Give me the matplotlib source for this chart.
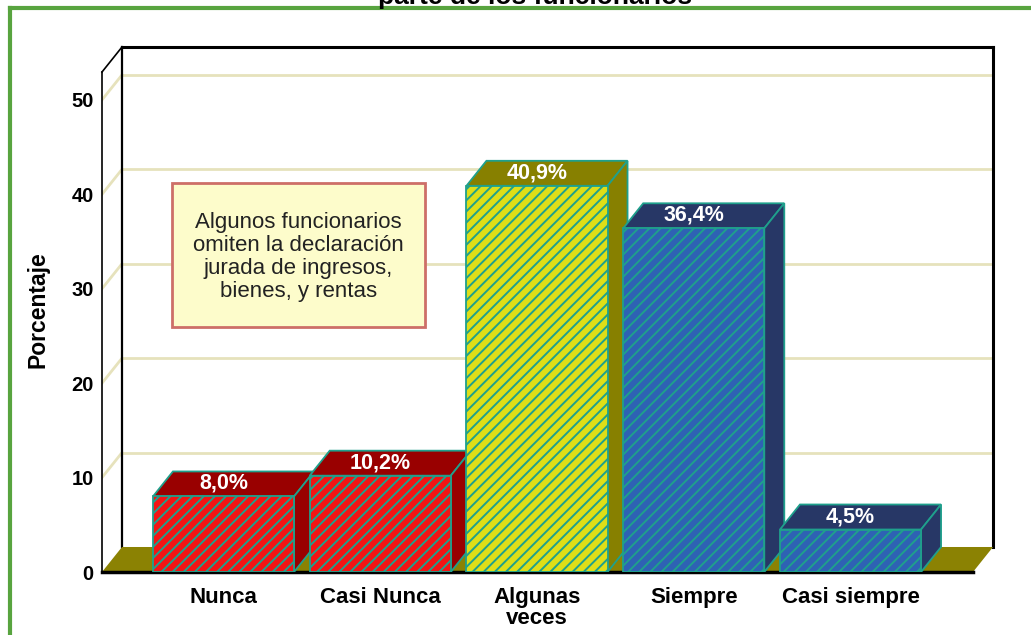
import numpy as np
import matplotlib
matplotlib.use('Agg')
import matplotlib.pyplot as plt
from matplotlib.patches import Polygon, Rectangle
from matplotlib.lines import Line2D

### DATA ###
categorias = ['Nunca', 'Casi Nunca', 'Algunas\nveces', 'Siempre', 'Casi siempre']
porcentajes = [8.0, 10.2, 40.9, 36.4, 4.5]
etiquetas = ['8,0%', '10,2%', '40,9%', '36,4%', '4,5%']
y_ticks = [0, 10, 20, 30, 40, 50]
titulo = 'parte de los funcionarios'
nota = 'Algunos funcionarios\nomiten la declaración\njurada de ingresos,\nbienes, y rentas'

### STYLE ###
frente = ['#f21414', '#f21414', '#dede18', '#2e62b4', '#2e62b4']
sombra = ['#990000', '#990000', '#878000', '#273766', '#273766']
borde = '#1fa08c'
piso = '#8b8203'
grilla = '#e6e2bc'
plt.rcParams['hatch.linewidth'] = 1.4
plt.rcParams['font.family'] = ['Liberation Sans', 'DejaVu Sans']

fig = plt.figure(figsize=(10.31, 6.35), dpi=100)
ax = fig.add_axes([102 / 1031, 1 - 572 / 635, 891 / 1031, 525 / 635])

x0, x1 = -0.775, 4.909
ytop = 55.6
dx = 20 / 156.75
dy = 25 / 9.44
ax.set_xlim(x0, x1)
ax.set_ylim(0, ytop)
for s in ax.spines.values():
    s.set_visible(False)

# paredes y grilla
for v in y_ticks[1:]:
    ax.plot([x0 + dx, x1], [v + dy, v + dy], color=grilla, lw=2, zorder=1)
    ax.plot([x0, x0 + dx], [v, v + dy], color=grilla, lw=2, zorder=1)
ax.plot([x0 + dx, x1], [ytop, ytop], color='black', lw=2.2, zorder=2, clip_on=False)
ax.plot([x0 + dx, x0 + dx], [dy, ytop], color='black', lw=1.6, zorder=2, clip_on=False)
ax.plot([x1, x1], [dy, ytop], color='black', lw=2.2, zorder=2, clip_on=False)
ax.plot([x0, x0], [0, ytop - dy], color='black', lw=1.2, zorder=2, clip_on=False)
ax.plot([x0, x0 + dx], [ytop - dy, ytop], color='black', lw=1.2, zorder=2, clip_on=False)

# piso
ax.add_patch(Polygon([(x0, 0), (x0 + dx, dy), (x1, dy), (x1 - dx, 0)],
                     closed=True, facecolor=piso, edgecolor='none', zorder=2, clip_on=False))
ax.plot([x0, x1 - dx], [0, 0], color='black', lw=2.5, zorder=2, clip_on=False)

# barras 3D
w = 0.45
for i, v in enumerate(porcentajes):
    z = 3 + i
    ax.bar(i, v, width=2 * w, color=frente[i], edgecolor=borde, hatch='///',
           linewidth=1.3, zorder=z + 0.5)
    top = Polygon([(i - w, v), (i - w + dx, v + dy), (i + w + dx, v + dy), (i + w, v)],
                  closed=True, facecolor=sombra[i], edgecolor=borde, lw=1.3, zorder=z)
    side = Polygon([(i + w, 0), (i + w, v), (i + w + dx, v + dy), (i + w + dx, dy)],
                   closed=True, facecolor=sombra[i], edgecolor=borde, lw=1.3, zorder=z)
    ax.add_patch(top)
    ax.add_patch(side)
    ax.text(i, v + dy * 0.52, etiquetas[i], ha='center', va='center', color='white',
            fontsize=15.5, fontweight='bold', zorder=z + 0.8)

ax.set_xticks(range(len(categorias)))
ax.set_xticklabels(categorias, fontsize=16, fontweight='bold', linespacing=1.0)
ax.set_yticks(y_ticks)
ax.set_yticklabels([str(t) for t in y_ticks], fontsize=14.5, fontweight='bold')
ax.tick_params(axis='x', length=0, pad=11)
ax.tick_params(axis='y', length=0, pad=6)
ax.set_ylabel('Porcentaje', fontsize=16.5, fontweight='bold', labelpad=16)

# cuadro de nota
ax.add_patch(Rectangle((70 / 891, 245 / 525), 253 / 891, 144 / 525, transform=ax.transAxes,
                       facecolor='#fdfccb', edgecolor='#cd6f68', lw=2, zorder=10))
ax.text((70 + 126.5) / 891, (245 + 70) / 525, nota, transform=ax.transAxes, ha='center',
        va='center', fontsize=16, color='#222222', linespacing=1.13, zorder=11)

# marco verde y titulo recortado
fig.add_artist(Line2D([9.5 / 1031, 9.5 / 1031], [0, 1 - 7.5 / 635], color='#58a43f', lw=3))
fig.add_artist(Line2D([9.5 / 1031, 1], [1 - 7.5 / 635, 1 - 7.5 / 635], color='#58a43f', lw=3))
fig.text(535 / 1031, 1 - 4 / 635, titulo, ha='center', va='baseline', fontsize=19,
         fontweight='bold')

fig.savefig('out.png', dpi=100)
